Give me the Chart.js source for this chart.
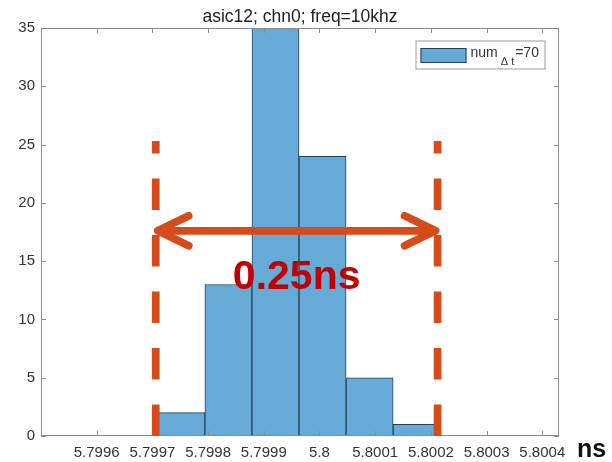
<!DOCTYPE html>
<html>
<head>
<meta charset="utf-8">
<script src="https://cdn.jsdelivr.net/npm/chart.js@4.4.1/dist/chart.umd.min.js"></script>
<style>
  html, body { margin: 0; padding: 0; background: #fff; }
</style>
</head>
<body>
<canvas id="hist" width="612" height="462"></canvas>
<script>
const titleText = "asic12; chn0; freq=10khz";
// bin centres (ns) and counts
const binCenters = [5.799752, 5.7998365, 5.799921, 5.8000055, 5.80009, 5.8001745];
const counts = [2, 13, 35, 24, 5, 1];
const xTicks = [5.7996, 5.7997, 5.7998, 5.7999, 5.8, 5.8001, 5.8002, 5.8003, 5.8004];
const xTickLabels = ["5.7996", "5.7997", "5.7998", "5.7999", "5.8", "5.8001", "5.8002", "5.8003", "5.8004"];
const yTicks = [0, 5, 10, 15, 20, 25, 30, 35];
const xRange = [5.7995, 5.80043];
const yRange = [0, 35];
// hand-drawn annotation on top of the plot
const spanMarks = [5.799706, 5.800212];
const markTop = 25.3;
const arrowLevel = 17.6;
const spanLabel = "0.25ns";
const spanLabelLevel = 13.6;
const legendName = "num", legendSub = "\u0394 t", legendValue = "=70";
const unitLabel = "ns";

const barFill = "#66aad7";
const barEdge = "#24405a";
const axisGray = "#8a8a8a";
const textGray = "#333333";
const orange = "#d54b1a";

//draws box, inward ticks, title, legend and the annotation
const decorations = {
  id: "decorations",
  afterDatasetsDraw(chart) {
    const { ctx, chartArea: a, scales: { x, y } } = chart;
    ctx.save();
    //axes box with ticks on all four sides
    ctx.strokeStyle = axisGray;
    ctx.lineWidth = 1;
    ctx.strokeRect(a.left + 0.5, a.top + 0.5, a.right - a.left - 1, a.bottom - a.top - 1);
    ctx.beginPath();
    xTicks.forEach((v) => {
      const px = Math.round(x.getPixelForValue(v)) + 0.5;
      ctx.moveTo(px, a.bottom); ctx.lineTo(px, a.bottom - 5);
      ctx.moveTo(px, a.top); ctx.lineTo(px, a.top + 5);
    });
    yTicks.forEach((v) => {
      const py = Math.round(y.getPixelForValue(v)) + 0.5;
      ctx.moveTo(a.left, py); ctx.lineTo(a.left + 5, py);
      ctx.moveTo(a.right, py); ctx.lineTo(a.right - 5, py);
    });
    ctx.stroke();

    //title
    ctx.fillStyle = "#222";
    ctx.font = "17.5px 'Liberation Sans', Arial, sans-serif";
    ctx.textAlign = "center";
    ctx.textBaseline = "alphabetic";
    ctx.fillText(titleText, (a.left + a.right) / 2, a.top - 6.5);

    //legend
    const lw = 130, lh = 29;
    const lx = a.right - 13.5 - lw, ly = a.top + 12.5;
    ctx.fillStyle = "#fff";
    ctx.fillRect(lx, ly, lw, lh);
    ctx.strokeStyle = "#9a9a9a";
    ctx.strokeRect(lx + 0.5, ly + 0.5, lw - 1, lh - 1);
    ctx.fillStyle = barFill;
    ctx.fillRect(lx + 5, ly + 7.5, 46, 15);
    ctx.strokeStyle = barEdge;
    ctx.strokeRect(lx + 5.5, ly + 8, 45, 14);
    ctx.fillStyle = textGray;
    ctx.textAlign = "left";
    ctx.font = "14px 'Liberation Sans', Arial, sans-serif";
    let tx = lx + 55;
    const base = ly + 16.5;
    ctx.fillText(legendName, tx, base);
    tx += ctx.measureText(legendName).width + 3;
    ctx.font = "11px 'Liberation Sans', Arial, sans-serif";
    ctx.fillText(legendSub, tx, base + 8);
    tx += ctx.measureText(legendSub).width + 1;
    ctx.font = "14px 'Liberation Sans', Arial, sans-serif";
    ctx.fillText(legendValue, tx, base);

    //dashed span markers
    const x0 = x.getPixelForValue(spanMarks[0]);
    const x1 = x.getPixelForValue(spanMarks[1]);
    const yBottom = y.getPixelForValue(0);
    const yTop = y.getPixelForValue(markTop);
    ctx.strokeStyle = orange;
    ctx.lineWidth = 7.7;
    ctx.lineCap = "butt";
    ctx.setLineDash([31.5, 25]);
    [x0, x1].forEach((px) => {
      ctx.beginPath();
      ctx.moveTo(px, yBottom);
      ctx.lineTo(px, yTop);
      ctx.stroke();
    });
    ctx.setLineDash([]);

    //double arrow
    const ay = y.getPixelForValue(arrowLevel);
    ctx.lineWidth = 7.7;
    ctx.lineCap = "round";
    ctx.lineJoin = "round";
    ctx.beginPath();
    ctx.moveTo(x0 + 3, ay); ctx.lineTo(x1 - 3, ay);
    ctx.stroke();
    ctx.beginPath();
    ctx.moveTo(x0 + 33, ay - 15); ctx.lineTo(x0 + 2, ay); ctx.lineTo(x0 + 33, ay + 15);
    ctx.moveTo(x1 - 33, ay - 15); ctx.lineTo(x1 - 2, ay); ctx.lineTo(x1 - 33, ay + 15);
    ctx.stroke();

    //span label
    ctx.fillStyle = "#c00000";
    ctx.font = "bold 41px 'Liberation Sans', Arial, sans-serif";
    ctx.textAlign = "center";
    ctx.textBaseline = "middle";
    ctx.fillText(spanLabel, (x0 + x1) / 2, y.getPixelForValue(spanLabelLevel));

    //unit label at the end of the x axis
    ctx.fillStyle = "#111";
    ctx.font = "bold 25px 'Liberation Sans', Arial, sans-serif";
    ctx.textAlign = "left";
    ctx.fillText(unitLabel, a.right + 18, a.bottom + 14);
    ctx.restore();
  },
};

new Chart(document.getElementById("hist"), {
  type: "bar",
  plugins: [decorations],
  data: {
    datasets: [
      {
        data: binCenters.map((c, i) => ({ x: c, y: counts[i] })),
        backgroundColor: barFill,
        borderColor: barEdge,
        borderWidth: 1,
        borderSkipped: "start",
        barPercentage: 1,
        categoryPercentage: 1,
      },
    ],
  },
  options: {
    responsive: false,
    devicePixelRatio: 1,
    animation: false,
    layout: { padding: { left: 0, right: 53, top: 28, bottom: 0 } },
    plugins: { legend: { display: false }, tooltip: { enabled: false }, title: { display: false } },
    scales: {
      x: {
        type: "linear",
        min: xRange[0],
        max: xRange[1],
        offset: false,
        grid: { display: false, drawTicks: false },
        border: { display: false },
        afterBuildTicks: (scale) => { scale.ticks = xTicks.map((v) => ({ value: v })); },
        afterFit: (scale) => { scale.height = 26; },
        ticks: {
          padding: 8,
          autoSkip: false,
          maxRotation: 0,
          color: textGray,
          font: { family: "'Liberation Sans', Arial, sans-serif", size: 15 },
          callback: (v, i) => xTickLabels[i],
        },
      },
      y: {
        min: yRange[0],
        max: yRange[1],
        grid: { display: false, drawTicks: false },
        border: { display: false },
        afterBuildTicks: (scale) => { scale.ticks = yTicks.map((v) => ({ value: v })); },
        afterFit: (scale) => { scale.width = 41; },
        ticks: {
          padding: 6,
          color: textGray,
          font: { family: "'Liberation Sans', Arial, sans-serif", size: 15 },
        },
      },
    },
  },
});
</script>
</body>
</html>
